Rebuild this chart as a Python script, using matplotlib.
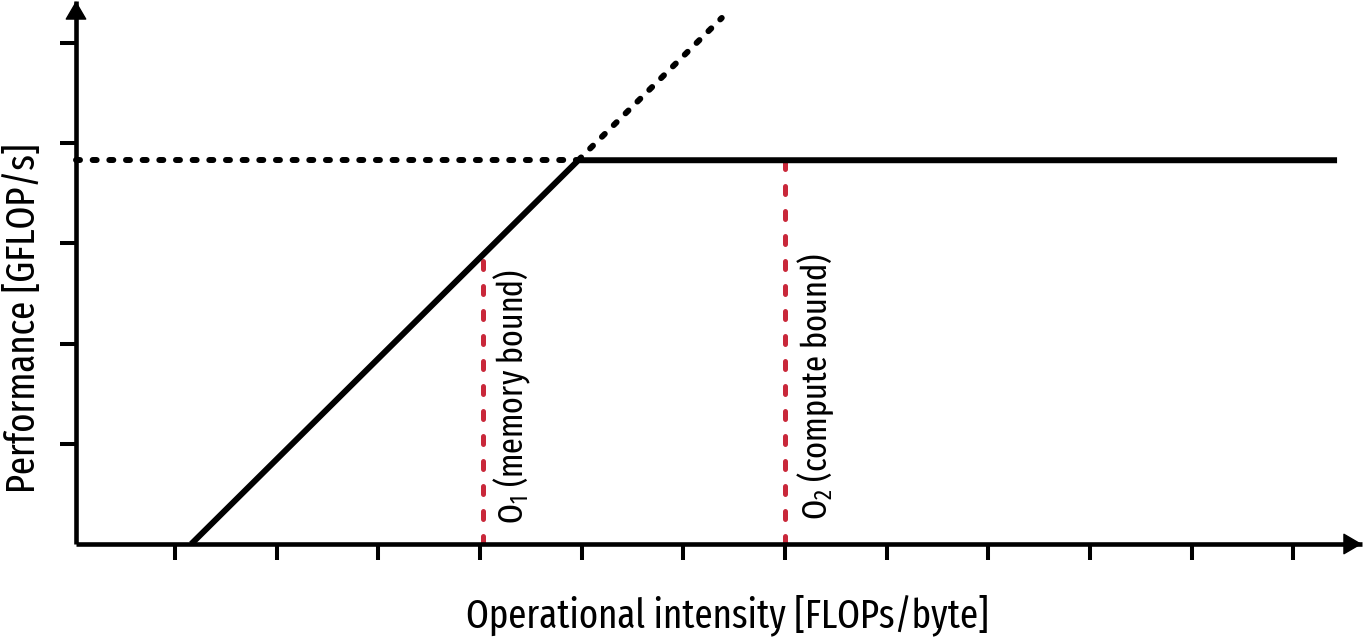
import matplotlib
matplotlib.use("Agg")
import matplotlib.pyplot as plt
import numpy as np
from matplotlib import font_manager

# ---- data ----
xticks = list(range(1, 13))
yticks = [1, 2, 3, 4, 5]
roof_x = [1.16, 4.967, 12.43]
roof_y = [0.0, 3.83, 3.83]
mem_ext_x = [4.967, 6.378]
mem_ext_y = [3.83, 5.25]
peak_ext_x = [0.03, 4.967]
peak_ext_y = [3.83, 3.83]
o1_x = 4.03
o2_x = 7.0
o1_label = r"O$\mathregular{_1}$ (memory bound)"
o2_label = r"O$\mathregular{_2}$ (compute bound)"
xlabel = "Operational intensity [FLOPs/byte]"
ylabel = "Performance [GFLOP/s]"

names = {f.name for f in font_manager.fontManager.ttflist}
fam = "DejaVu Sans"
for cand in ["Fira Sans Extra Condensed", "Fira Sans Condensed"]:
    if cand in names:
        fam = cand
        break
plt.rcParams["font.family"] = [fam, "DejaVu Sans"]
plt.rcParams["mathtext.fontset"] = "custom"
plt.rcParams["mathtext.rm"] = fam

W, H = 1363, 637
fig = plt.figure(figsize=(W / 100, H / 100), dpi=100)

def fx(x):
    return x / W

def fy(y):
    return 1 - y / H

ax_l, ax_r, ax_t, ax_b = 76, 1362, 1, 544
ax = fig.add_axes([fx(ax_l), fy(ax_b), (ax_r - ax_l) / W, (ax_b - ax_t) / H])
ux = 101.67
x0 = (ax_l - 73.3) / ux
ax.set_xlim(x0, x0 + (ax_r - ax_l) / ux)
ax.set_ylim(0, (ax_b - ax_t) / 100.2)

for s in ["top", "right"]:
    ax.spines[s].set_visible(False)
for s in ["left", "bottom"]:
    ax.spines[s].set_linewidth(3.3)
    ax.spines[s].set_capstyle("butt")

ax.set_xticks(xticks)
ax.set_yticks(yticks)
ax.set_xticklabels([])
ax.set_yticklabels([])
ax.tick_params(direction="out", length=11.5, width=2.9, color="black")

# arrows
ap = dict(arrowstyle="-|>,head_length=1.2,head_width=0.7", lw=1.0, color="black",
          shrinkA=0, shrinkB=0, fc="black")
ax.annotate("", xy=(1.0, 0), xytext=(0.97, 0), xycoords="axes fraction",
            textcoords="axes fraction", arrowprops=ap, annotation_clip=False)
ax.annotate("", xy=(0, 1.0), xytext=(0, 0.93), xycoords="axes fraction",
            textcoords="axes fraction", arrowprops=ap, annotation_clip=False)

# roofline
ax.plot(roof_x, roof_y, color="black", lw=4.3, solid_joinstyle="miter",
        solid_capstyle="butt", clip_on=False, zorder=3)
ax.plot(mem_ext_x, mem_ext_y, color="black", lw=4.3, linestyle=(0, (0.67, 2.12)),
        dash_capstyle="round", clip_on=False, zorder=3)
ax.plot(peak_ext_x, peak_ext_y, color="black", lw=4.3, linestyle=(0, (0.67, 2.12)),
        dash_capstyle="round", clip_on=False, zorder=3)

red = "#c9283a"
o1_top = np.interp(o1_x, roof_x, roof_y)
o2_top = np.interp(o2_x, roof_x, roof_y)
ax.plot([o1_x, o1_x], [0, o1_top], color=red, lw=3.6, linestyle=(0, (1.6, 3.4)),
        dash_capstyle="round", zorder=2)
ax.plot([o2_x, o2_x], [0, o2_top], color=red, lw=3.6, linestyle=(0, (1.6, 3.4)),
        dash_capstyle="round", zorder=2)

renderer = fig.canvas.get_renderer()

def fitted_size(s, target_px, base=28.0):
    t = fig.text(0, 0, s, fontsize=base)
    w = t.get_window_extent(renderer=renderer).width
    t.remove()
    return base * target_px / w

def put(s, x, y, length, rot):
    fs = fitted_size(s, length)
    fig.text(fx(x), fy(y), s, rotation=rot, rotation_mode="anchor",
             ha="left", va="baseline", fontsize=fs, color="black")

put(xlabel, 466, 627, 523, 0)
put(ylabel, 35, 493, 350, 90)
put(o1_label, 523, 524, 255, 90)
put(o2_label, 827, 520, 267, 90)

fig.savefig("out.png", dpi=100)
